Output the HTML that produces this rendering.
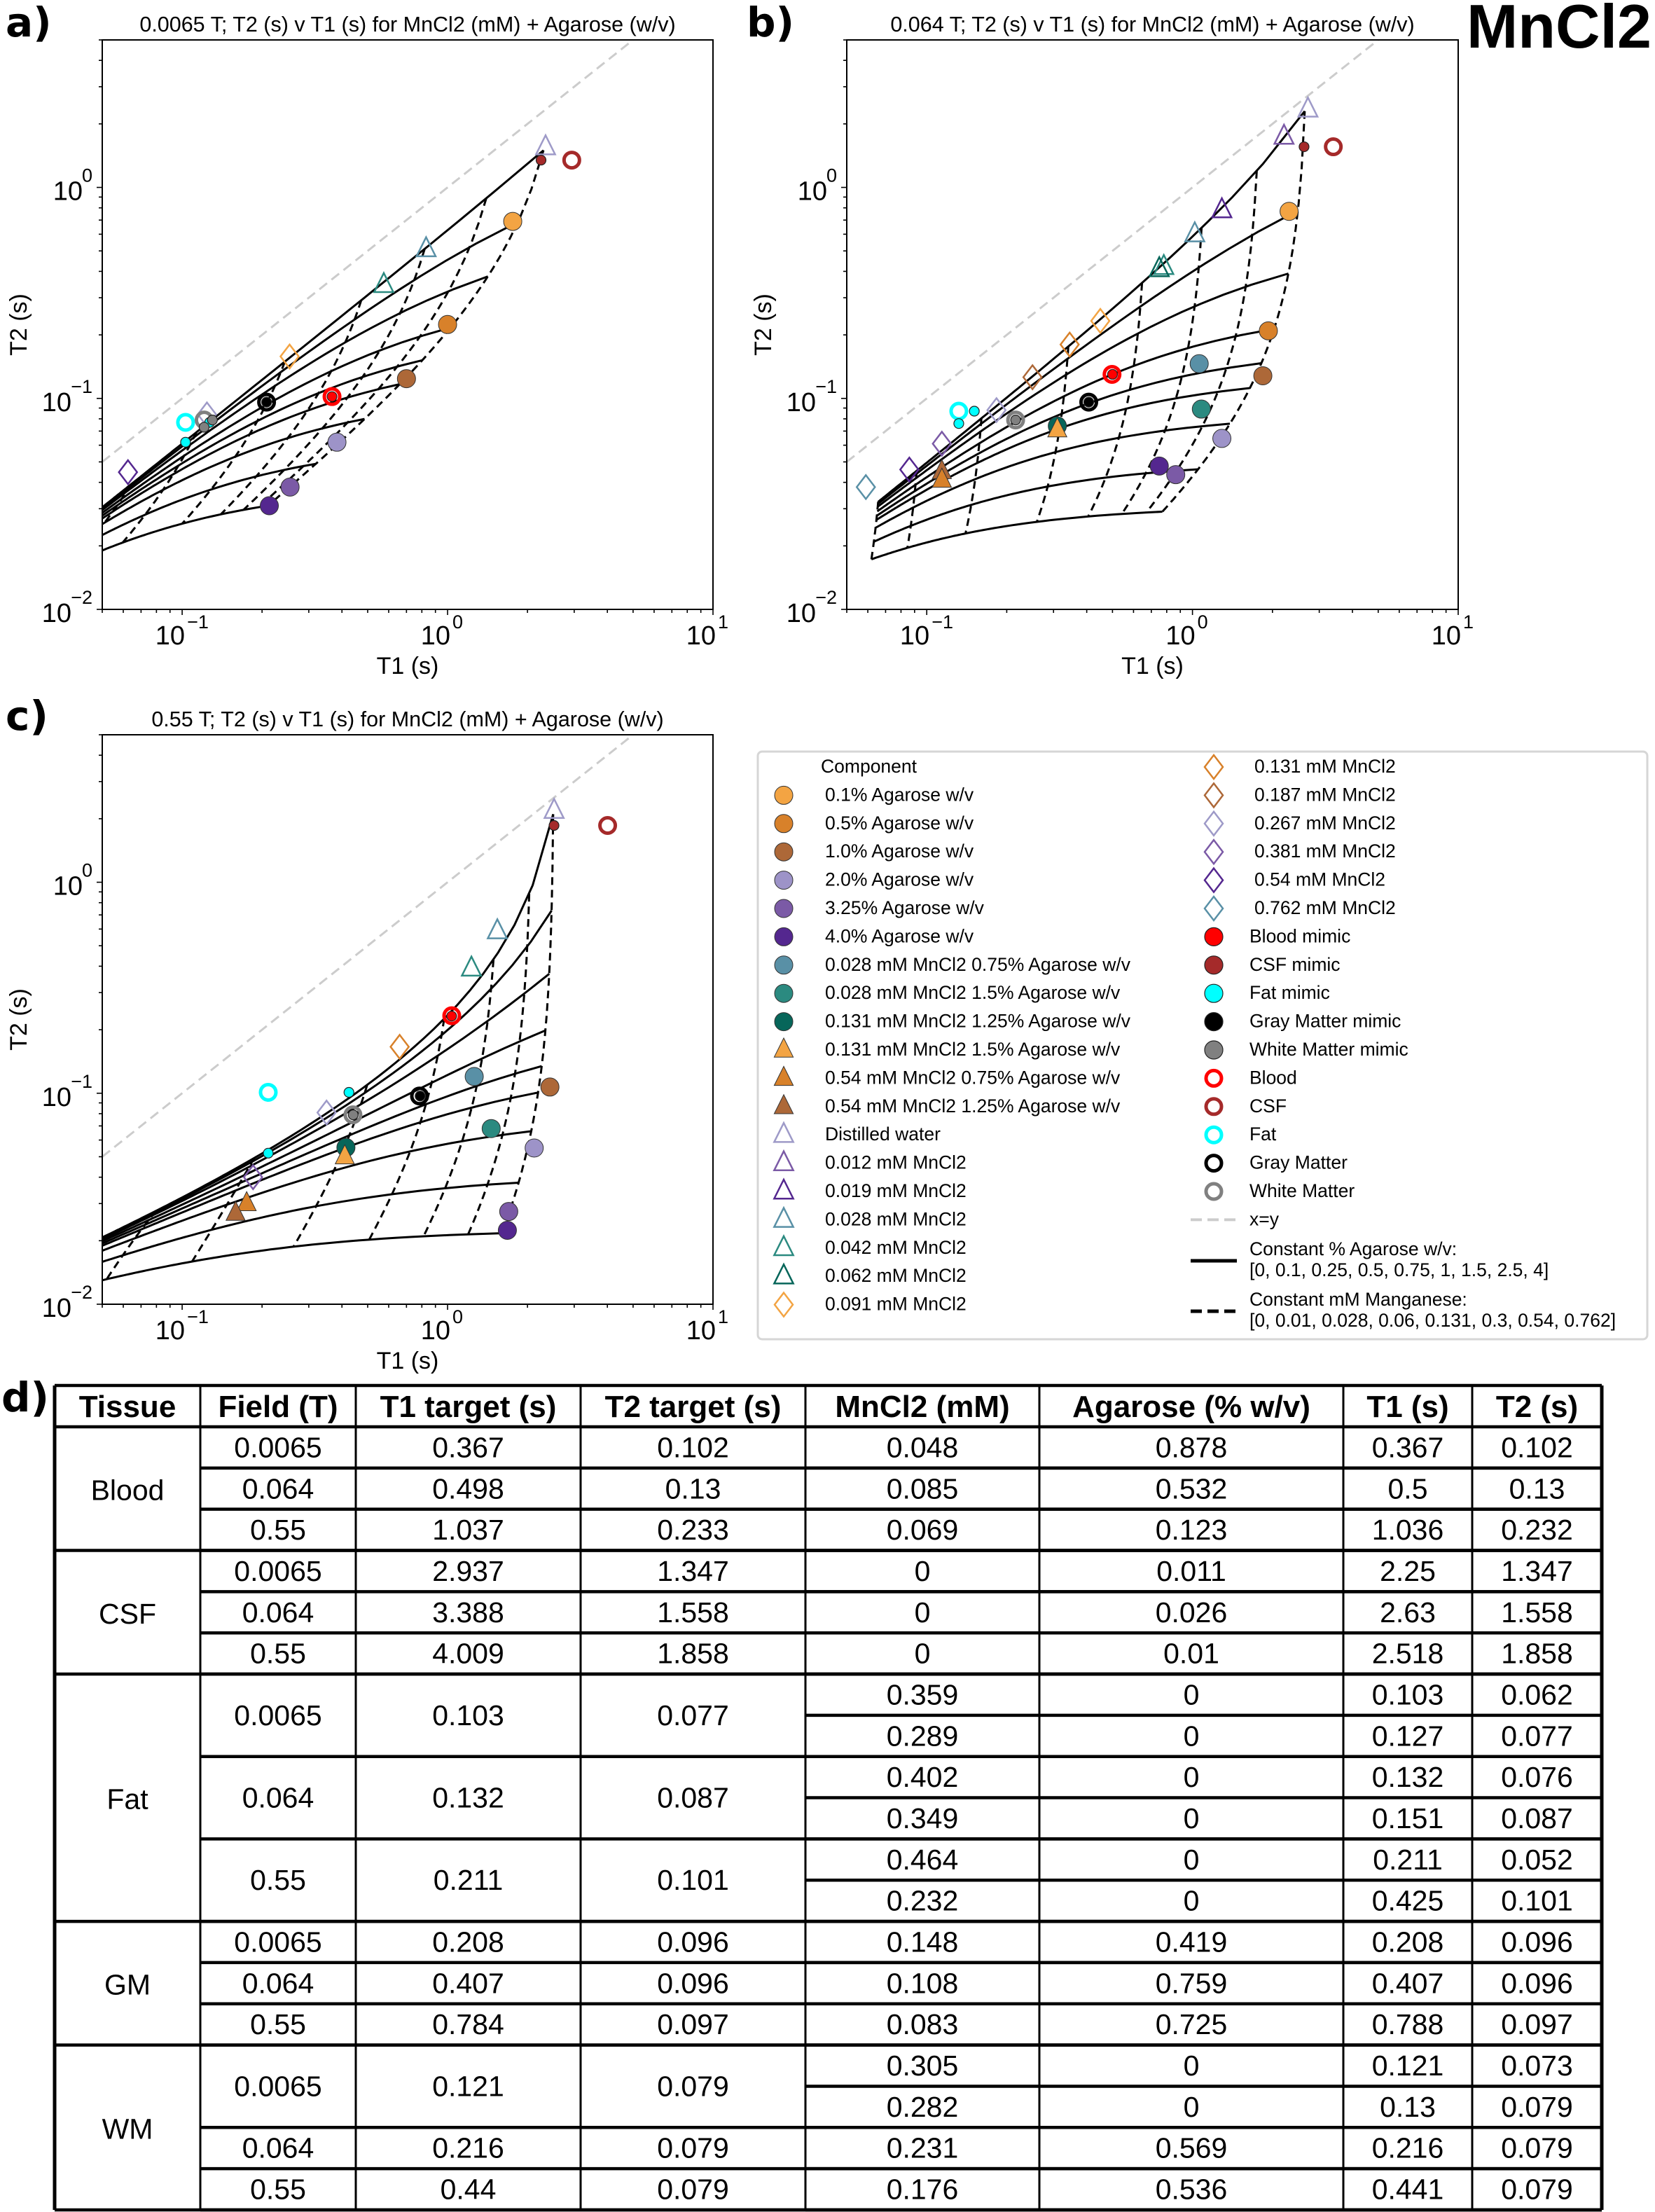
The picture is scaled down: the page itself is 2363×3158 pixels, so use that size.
<!DOCTYPE html>
<html><head><meta charset="utf-8"><style>
html,body{margin:0;padding:0;background:#fff}
svg{display:block}
text{font-family:"Liberation Sans",Arial,sans-serif;fill:#000}
</style></head><body>
<svg id="fig" xmlns="http://www.w3.org/2000/svg" width="2363" height="3158" viewBox="0 0 2363 3158">
<rect x="0" y="0" width="2363" height="3158" fill="#fff"/>
<text x="8" y="52" font-size="58" font-weight="bold" style="font-family:'DejaVu Sans',sans-serif">a)</text>
<text x="1066" y="52" font-size="58" font-weight="bold" style="font-family:'DejaVu Sans',sans-serif">b)</text>
<text x="8" y="1042" font-size="58" font-weight="bold" style="font-family:'DejaVu Sans',sans-serif">c)</text>
<text x="2" y="2015" font-size="58" font-weight="bold" style="font-family:'DejaVu Sans',sans-serif">d)</text>
<text x="2358" y="68" font-size="88" font-weight="bold" text-anchor="end">MnCl2</text>
<g id="charts"></g>
<g id="legend"></g>
<g id="table"></g>
</svg>
<script>
// ---- chart data ----
const fieldTitles = ["0.0065 T; T2 (s) v T1 (s) for MnCl2 (mM) + Agarose (w/v)", "0.064 T; T2 (s) v T1 (s) for MnCl2 (mM) + Agarose (w/v)", "0.55 T; T2 (s) v T1 (s) for MnCl2 (mM) + Agarose (w/v)"];
const agaroseLevels = [0, 0.1, 0.25, 0.5, 0.75, 1, 1.5, 2.5, 4];
const manganeseLevels = [0, 0.01, 0.028, 0.06, 0.131, 0.3, 0.54, 0.762];
// relaxation-rate model coefficients per field (read from the grids)
const r1Water = [0.435, 0.378, 0.4];
const r1Agarose = [1.08, 0.23, 0.056];
const r1Mn = [28, 19.5, 9];
const r1MnSq = [0, 0, 25];
const r1Cross = [3, 0, 3];
const r2Water = [0.667, 0.435, 0.476];
const r2Agarose = [7.9, 8.5, 8.8];
const r2AgaroseSq = [0, 0, 0.65];
const r2Mn = [46, 40, 66];
const r2Cross = [1.8, -2.3, -2.6];
const xTicks = [0.1, 1, 10];
const xTickExp = ["\u22121", "0", "1"];
const yTicks = [0.01, 0.1, 1];
const yTickExp = ["\u22122", "\u22121", "0"];
// scatter points: category, T1, T2
const aCats = ["ag01","ag05","ag10","ag20","ag325","ag40","tri028","tri042","dia091","dia054","dia267","water","csfMimic","csf","blood","bloodMimic","gm","gmMimic","fat","fatMimic","fatMimic","wm","wmMimic","wmMimic"];
const aT1 = [1.76,1.0,0.70,0.383,0.255,0.213,0.83,0.575,0.254,0.0625,0.124,2.34,2.25,2.937,0.367,0.367,0.208,0.208,0.103,0.103,0.127,0.121,0.121,0.13];
const aT2 = [0.69,0.224,0.124,0.062,0.038,0.031,0.51,0.345,0.158,0.0447,0.084,1.55,1.347,1.347,0.102,0.102,0.096,0.096,0.077,0.062,0.077,0.079,0.073,0.079];
const bCats = ["water","tri012","tri019","tri028","tri042","tri062","ag01","ag05","ag10","ag20","ag325","ag40","mix028_075","mix028_15","mix131_125","tri131_15","tri054_125","tri054_075","dia091","dia131","dia187","dia267","dia381","dia054","dia762","csfMimic","csf","blood","bloodMimic","gm","gmMimic","fat","fatMimic","fatMimic","wm","wmMimic"];
const bT1 = [2.72,2.21,1.29,1.02,0.78,0.75,2.31,1.93,1.84,1.29,0.865,0.75,1.06,1.08,0.31,0.31,0.114,0.114,0.45,0.345,0.25,0.183,0.114,0.086,0.059,2.63,3.388,0.498,0.5,0.407,0.407,0.132,0.132,0.151,0.216,0.216];
const bT2 = [2.34,1.74,0.78,0.6,0.42,0.41,0.77,0.209,0.128,0.0646,0.0435,0.0478,0.146,0.089,0.074,0.071,0.045,0.041,0.233,0.18,0.126,0.088,0.061,0.046,0.038,1.558,1.558,0.13,0.13,0.096,0.096,0.087,0.076,0.087,0.079,0.079];
const cCats = ["water","tri028","tri042","dia131","dia267","dia381","mix028_075","ag10","mix028_15","ag20","ag325","ag40","mix131_125","tri131_15","tri054_075","tri054_125","csfMimic","csf","blood","bloodMimic","gm","gmMimic","wm","wmMimic","fat","fatMimic","fatMimic"];
const cT1 = [2.52,1.54,1.23,0.66,0.35,0.185,1.26,2.43,1.46,2.12,1.70,1.68,0.414,0.41,0.175,0.159,2.518,4.009,1.037,1.036,0.784,0.788,0.44,0.441,0.211,0.211,0.425];
const cT2 = [2.18,0.586,0.39,0.166,0.081,0.04,0.12,0.107,0.068,0.055,0.0275,0.0224,0.0553,0.050,0.030,0.027,1.858,1.858,0.233,0.232,0.097,0.097,0.079,0.079,0.101,0.052,0.101];

const NS = "http://www.w3.org/2000/svg";
function mk(tag, attrs, parent){const e=document.createElementNS(NS,tag);for(const k in attrs)e.setAttribute(k,attrs[k]);if(parent)parent.appendChild(e);return e;}

const STY = {
 ag01:{s:"circle",f:"#f3a443"}, ag05:{s:"circle",f:"#d8812a"}, ag10:{s:"circle",f:"#ad6838"},
 ag20:{s:"circle",f:"#9d93c8"}, ag325:{s:"circle",f:"#7b5aa6"}, ag40:{s:"circle",f:"#54278f"},
 mix028_075:{s:"circle",f:"#5990a6"}, mix028_15:{s:"circle",f:"#2b8a80"}, mix131_125:{s:"circle",f:"#07665a"},
 tri131_15:{s:"ftri",f:"#f3a443"}, tri054_075:{s:"ftri",f:"#d8812a"}, tri054_125:{s:"ftri",f:"#ad6838"},
 water:{s:"tri",c:"#9e9ac8"}, tri012:{s:"tri",c:"#7b5aa6"}, tri019:{s:"tri",c:"#54278f"},
 tri028:{s:"tri",c:"#5990a6"}, tri042:{s:"tri",c:"#2b8a80"}, tri062:{s:"tri",c:"#07665a"},
 dia091:{s:"dia",c:"#f3a443"}, dia131:{s:"dia",c:"#d8812a"}, dia187:{s:"dia",c:"#ad6838"},
 dia267:{s:"dia",c:"#9e9ac8"}, dia381:{s:"dia",c:"#7b5aa6"}, dia054:{s:"dia",c:"#54278f"}, dia762:{s:"dia",c:"#5990a6"},
 bloodMimic:{s:"mimic",f:"#ff0000"}, csfMimic:{s:"mimic",f:"#a52a2a"}, fatMimic:{s:"mimic",f:"#00ffff"},
 gmMimic:{s:"mimic",f:"#000000"}, wmMimic:{s:"mimic",f:"#808080"},
 blood:{s:"ring",c:"#ff0000"}, csf:{s:"ring",c:"#a52a2a"}, fat:{s:"ring",c:"#00ffff"}, gm:{s:"ring",c:"#000000"}, wm:{s:"ring",c:"#808080"}
};
function marker(g, st, cx, cy, big){
 let e;
 if(st.s==="circle"){e=mk("circle",{cx:cx,cy:cy,r:13,fill:st.f,stroke:"#333",'stroke-width':1},g);}
 else if(st.s==="mimic"){e=mk("circle",{cx:cx,cy:cy,r:big?13:7,fill:st.f,stroke:"#222",'stroke-width':1.2},g);}
 else if(st.s==="ring"){e=mk("circle",{cx:cx,cy:cy,r:11,fill:"none",stroke:st.c,'stroke-width':5},g);}
 else if(st.s==="tri"||st.s==="ftri"){const s=17;e=mk("polygon",{points:`${cx},${cy-s} ${cx-s*0.8},${cy+s*0.6} ${cx+s*0.8},${cy+s*0.6}`,fill:st.s==="ftri"?st.f:"none",stroke:st.s==="ftri"?"#333":st.c,'stroke-width':st.s==="ftri"?1:2.5},g);}
 else {const h=17,w=13;e=mk("polygon",{points:`${cx},${cy-h} ${cx+w},${cy} ${cx},${cy+h} ${cx-w},${cy}`,fill:"none",stroke:st.c,'stroke-width':2.5},g);}
 return e;
}

const panels=[{x0:146,x1:1018,y0:57,y1:870},{x0:1209,x1:2082,y0:57,y1:870},{x0:146,x1:1018,y0:1049,y1:1862}];
const panelCats=[aCats,bCats,cCats], panelT1=[aT1,bT1,cT1], panelT2=[aT2,bT2,cT2];
const charts=document.getElementById("charts");
panels.forEach((p,pi)=>{
 const g=mk("g",{},charts);
 
 
 const X=v=>p.x0+(Math.log10(v)-Math.log10(0.05))/Math.log10(200)*(p.x1-p.x0);
 const Y=v=>p.y1-(Math.log10(v)+2)/Math.log10(500)*(p.y1-p.y0);
 const cid="clip"+pi;
 const cp=mk("clipPath",{id:cid},g); mk("rect",{x:p.x0,y:p.y0,width:p.x1-p.x0,height:p.y1-p.y0},cp);
 const t=mk("text",{x:(p.x0+p.x1)/2,y:p.y0-12,'font-size':30.5,'text-anchor':'middle'},g); t.textContent=fieldTitles[pi];
  
 const lg=mk("g",{'clip-path':`url(#${cid})`},g);
 const xy=mk("line",{x1:X(0.05),y1:Y(0.05),x2:X(5),y2:Y(5),stroke:"#cccccc",'stroke-width':3,'stroke-dasharray':"14 8"},lg);
  
 const R1=(A,M)=>r1Water[pi]+r1Agarose[pi]*A+r1Mn[pi]*M+r1MnSq[pi]*M*M+r1Cross[pi]*A*M;
 const R2=(A,M)=>r2Water[pi]+r2Agarose[pi]*A+r2AgaroseSq[pi]*A*A+r2Mn[pi]*M+r2Cross[pi]*A*M;
 const N=90;
 agaroseLevels.forEach(A=>{
  const mMax=manganeseLevels[manganeseLevels.length-1];let d="";
  for(let i=0;i<=N;i++){const M=mMax*i/N;d+=(i?"L":"M")+X(1/R1(A,M)).toFixed(1)+","+Y(1/R2(A,M)).toFixed(1);}
  const e=mk("path",{d:d,fill:"none",stroke:"#000",'stroke-width':3},lg);
   
 });
 manganeseLevels.forEach(M=>{
  const aMax=agaroseLevels[agaroseLevels.length-1];let d="";
  for(let i=0;i<=N;i++){const A=aMax*i/N;d+=(i?"L":"M")+X(1/R1(A,M)).toFixed(1)+","+Y(1/R2(A,M)).toFixed(1);}
  const e=mk("path",{d:d,fill:"none",stroke:"#000",'stroke-width':3,'stroke-dasharray':"11 7"},lg);
   
 });
 const cats=panelCats[pi],t1=panelT1[pi],t2=panelT2[pi];
 const order=cats.map((c,i)=>i).sort((a,b)=>(STY[cats[a]].s==="mimic")-(STY[cats[b]].s==="mimic"));
 order.forEach(i=>{const e=marker(g,STY[cats[i]],X(t1[i]),Y(t2[i]),false);
   });
 const fr=mk("rect",{x:p.x0,y:p.y0,width:p.x1-p.x0,height:p.y1-p.y0,fill:"none",stroke:"#000",'stroke-width':2},g);
  
 for(let k=-2;k<=1;k++)for(let m=1;m<10;m++){const v=m*Math.pow(10,k);
  if(v>=0.0499&&v<=10.001){const x=X(v);mk("line",{x1:x,x2:x,y1:p.y1,y2:p.y1+(m===1?8:5),stroke:"#000",'stroke-width':1.6},g);}
  if(v>=0.00999&&v<=5.001){const y=Y(v);mk("line",{x1:p.x0,x2:p.x0-(m===1?8:5),y1:y,y2:y,stroke:"#000",'stroke-width':1.6},g);}}
 xTicks.forEach((v,i)=>{const x=X(v);
  const a=mk("text",{x:x+4,y:p.y1+50,'font-size':38,'text-anchor':'end'},g);a.textContent="10";
   
  const b=mk("text",{x:x+7,y:p.y1+27,'font-size':27},g);b.textContent=xTickExp[i];});
 yTicks.forEach((v,i)=>{const y=Y(v);
  const b=mk("text",{x:p.x0-14,y:y-8,'font-size':27,'text-anchor':'end'},g);b.textContent=yTickExp[i];
  const w=yTickExp[i].length>1?30:14;
  const a=mk("text",{x:p.x0-14-w,y:y+18,'font-size':38,'text-anchor':'end'},g);a.textContent="10";
   });
 const xl=mk("text",{x:(p.x0+p.x1)/2,y:p.y1+92,'font-size':34,'text-anchor':'middle'},g);xl.textContent="T1 (s)";
  
 const yx=p.x0-108,yy=(p.y0+p.y1)/2;
 const yl=mk("text",{x:yx,y:yy,'font-size':34,'text-anchor':'middle',transform:`rotate(-90 ${yx} ${yy})`},g);yl.textContent="T2 (s)";
  
});

// ---- legend ----
const legCol1Cats=["ag01","ag05","ag10","ag20","ag325","ag40","mix028_075","mix028_15","mix131_125","tri131_15","tri054_075","tri054_125","water","tri012","tri019","tri028","tri042","tri062","dia091"];
const legCol1Labels=["0.1% Agarose w/v","0.5% Agarose w/v","1.0% Agarose w/v","2.0% Agarose w/v","3.25% Agarose w/v","4.0% Agarose w/v","0.028 mM MnCl2 0.75% Agarose w/v","0.028 mM MnCl2 1.5% Agarose w/v","0.131 mM MnCl2 1.25% Agarose w/v","0.131 mM MnCl2 1.5% Agarose w/v","0.54 mM MnCl2 0.75% Agarose w/v","0.54 mM MnCl2 1.25% Agarose w/v","Distilled water","0.012 mM MnCl2","0.019 mM MnCl2","0.028 mM MnCl2","0.042 mM MnCl2","0.062 mM MnCl2","0.091 mM MnCl2"];
const legCol2Cats=["dia131","dia187","dia267","dia381","dia054","dia762","bloodMimic","csfMimic","fatMimic","gmMimic","wmMimic","blood","csf","fat","gm","wm"];
const legCol2Labels=["0.131 mM MnCl2","0.187 mM MnCl2","0.267 mM MnCl2","0.381 mM MnCl2","0.54 mM MnCl2","0.762 mM MnCl2","Blood mimic","CSF mimic","Fat mimic","Gray Matter mimic","White Matter mimic","Blood","CSF","Fat","Gray Matter","White Matter"];
const leg=document.getElementById("legend");
const lb=mk("rect",{x:1082,y:1073,width:1270,height:839,rx:6,fill:"#fff",stroke:"#d6d6d6",'stroke-width':3},leg);
 
const rowY=i=>1103+40.4*i;
let ct=mk("text",{x:1172,y:rowY(0),'font-size':26.5},leg);ct.textContent="Component";
 
legCol1Cats.forEach((c,i)=>{const y=rowY(i+1);marker(leg,STY[c],1119,y-8,true);
 const t=mk("text",{x:1178,y:y,'font-size':26.5},leg);t.textContent=legCol1Labels[i];
  });
legCol2Cats.forEach((c,i)=>{const y=rowY(i);const st=STY[c];
 if(st.s==="ring"){mk("circle",{cx:1733,cy:y-8,r:11,fill:"none",stroke:st.c,'stroke-width':5},leg);}
 else marker(leg,st,1733,y-8,true);
 const t=mk("text",{x:st.s==="dia"?1791:1784,y:y,'font-size':26.5},leg);t.textContent=legCol2Labels[i];
  });
mk("line",{x1:1700,x2:1766,y1:rowY(16)-8,y2:rowY(16)-8,stroke:"#cccccc",'stroke-width':4,'stroke-dasharray':"16 8"},leg);
let tx=mk("text",{x:1784,y:rowY(16),'font-size':26.5},leg);tx.textContent="x=y";
mk("line",{x1:1700,x2:1766,y1:1800,y2:1800,stroke:"#000",'stroke-width':5},leg);
tx=mk("text",{x:1784,y:1792,'font-size':26.5},leg);tx.textContent="Constant % Agarose w/v:";
tx=mk("text",{x:1784,y:1822,'font-size':26.5},leg);tx.textContent="[0, 0.1, 0.25, 0.5, 0.75, 1, 1.5, 2.5, 4]";
mk("line",{x1:1700,x2:1766,y1:1872,y2:1872,stroke:"#000",'stroke-width':5,'stroke-dasharray':"16 8"},leg);
tx=mk("text",{x:1784,y:1864,'font-size':26.5},leg);tx.textContent="Constant mM Manganese:";
tx=mk("text",{x:1784,y:1894,'font-size':26.5},leg);tx.textContent="[0, 0.01, 0.028, 0.06, 0.131, 0.3, 0.54, 0.762]";

// ---- table ----
const tHeaders=["Tissue","Field (T)","T1 target (s)","T2 target (s)","MnCl2 (mM)","Agarose (% w/v)","T1 (s)","T2 (s)"];
const tCols=[78,286,508,829,1150,1484,1918,2102,2287];
const tissues=[
 {n:"Blood",g:[{f:"0.0065",a:"0.367",b:"0.102",r:[["0.048","0.878","0.367","0.102"]]},{f:"0.064",a:"0.498",b:"0.13",r:[["0.085","0.532","0.5","0.13"]]},{f:"0.55",a:"1.037",b:"0.233",r:[["0.069","0.123","1.036","0.232"]]}]},
 {n:"CSF",g:[{f:"0.0065",a:"2.937",b:"1.347",r:[["0","0.011","2.25","1.347"]]},{f:"0.064",a:"3.388",b:"1.558",r:[["0","0.026","2.63","1.558"]]},{f:"0.55",a:"4.009",b:"1.858",r:[["0","0.01","2.518","1.858"]]}]},
 {n:"Fat",g:[{f:"0.0065",a:"0.103",b:"0.077",r:[["0.359","0","0.103","0.062"],["0.289","0","0.127","0.077"]]},{f:"0.064",a:"0.132",b:"0.087",r:[["0.402","0","0.132","0.076"],["0.349","0","0.151","0.087"]]},{f:"0.55",a:"0.211",b:"0.101",r:[["0.464","0","0.211","0.052"],["0.232","0","0.425","0.101"]]}]},
 {n:"GM",g:[{f:"0.0065",a:"0.208",b:"0.096",r:[["0.148","0.419","0.208","0.096"]]},{f:"0.064",a:"0.407",b:"0.096",r:[["0.108","0.759","0.407","0.096"]]},{f:"0.55",a:"0.784",b:"0.097",r:[["0.083","0.725","0.788","0.097"]]}]},
 {n:"WM",g:[{f:"0.0065",a:"0.121",b:"0.079",r:[["0.305","0","0.121","0.073"],["0.282","0","0.13","0.079"]]},{f:"0.064",a:"0.216",b:"0.079",r:[["0.231","0.569","0.216","0.079"]]},{f:"0.55",a:"0.44",b:"0.079",r:[["0.176","0.536","0.441","0.079"]]}]}
];
const tb=document.getElementById("table");
const top0=1978,hb=2037,rh=58.84;
const cx=i=>(tCols[i]+tCols[i+1])/2;
function ttext(s,x,y,bold,name){const t=mk("text",{x:x,y:y,'font-size':bold?44:41,'font-weight':bold?'bold':'normal','text-anchor':'middle'},tb);t.textContent=s;
  }
tHeaders.forEach((h,i)=>ttext(h,cx(i),hb-14,true,'table-header'));
const HL=(x1,x2,y)=>mk("line",{x1:x1,x2:x2,y1:y,y2:y,stroke:"#000",'stroke-width':4.5},tb);
let row=0;
tissues.forEach(ts=>{
 const start=row;
 ts.g.forEach(gr=>{
  const gs=row;
  gr.r.forEach(r=>{
   const yc=hb+(row+0.5)*rh+14;
   r.forEach((v,j)=>ttext(v,cx(4+j),yc,false,'table-cell'));
   row++;
   HL(tCols[4],tCols[8],hb+row*rh);
  });
  const ym=hb+(gs+row)/2*rh+14;
  ttext(gr.f,cx(1),ym,false,'table-cell');ttext(gr.a,cx(2),ym,false,'table-cell');ttext(gr.b,cx(3),ym,false,'table-cell');
  HL(tCols[1],tCols[8],hb+row*rh);
 });
 ttext(ts.n,cx(0),hb+(start+row)/2*rh+16,false,'table-tissue');
 HL(tCols[0],tCols[8],hb+row*rh);
});
HL(tCols[0],tCols[8],top0);HL(tCols[0],tCols[8],hb);
tCols.forEach((x,i)=>mk("line",{x1:x,x2:x,y1:top0,y2:hb+row*rh,stroke:"#000",'stroke-width':(i===0||i===tCols.length-1)?5:3},tb));
</script>
</body></html>
